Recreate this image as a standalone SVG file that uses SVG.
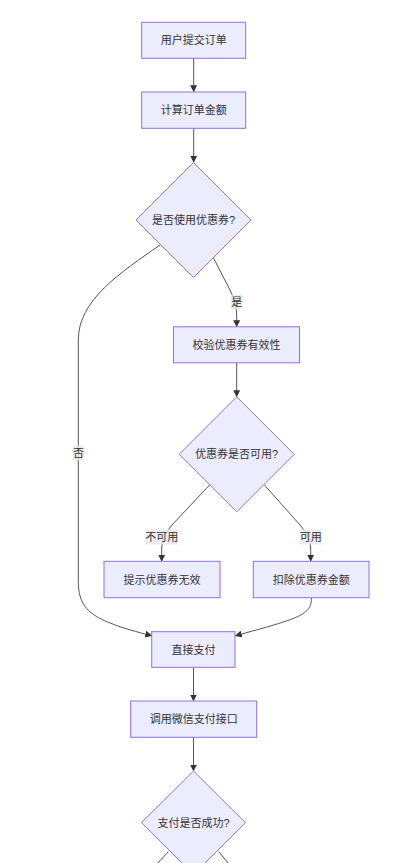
<svg xmlns="http://www.w3.org/2000/svg" width="406" height="863" viewBox="0 0 406 863">
<defs>
<style>
.n{fill:#ECECFF;stroke:#9370DB;stroke-width:1}
.t{font-family:"Liberation Sans","Noto Sans CJK SC",sans-serif;font-size:11px;fill:#333;text-anchor:middle;dominant-baseline:central}
.e{fill:none;stroke:#555;stroke-width:1}
.lb{fill:#e8e8e8;fill-opacity:0.8}
</style>
<marker id="arr" viewBox="0 0 10 10" refX="9" refY="5" markerWidth="7" markerHeight="7" markerUnits="userSpaceOnUse" orient="auto">
<path d="M0,0 L10,5 L0,10 z" fill="#333"/>
</marker>
</defs>
<rect width="406" height="863" fill="#fff"/>
<g id="edges">
<path class="e" d="M193.7,58.3 L193.7,91.5" marker-end="url(#arr)"/>
<path class="e" d="M193.7,128.3 L193.7,162" marker-end="url(#arr)"/>
<path class="e" d="M212.5,256 L230,290 Q236.7,303 236.7,315 L236.7,326.5" marker-end="url(#arr)"/>
<path class="e" d="M160,245 C120,273 78.3,300 78.3,340 L78.3,580 C78.3,610 90,620 151.5,635.7" marker-end="url(#arr)"/>
<path class="e" d="M236.7,362.7 L236.7,396.5" marker-end="url(#arr)"/>
<path class="e" d="M209.5,485 L172,525 Q161.7,537 161.7,548 L161.7,561" marker-end="url(#arr)"/>
<path class="e" d="M264.5,485 L300,525 Q310.7,537 310.7,548 L310.7,561" marker-end="url(#arr)"/>
<path class="e" d="M311.5,597.7 C311.5,615 300,618 235.5,635.7" marker-end="url(#arr)"/>
<path class="e" d="M193.5,667.3 L193.5,700.8" marker-end="url(#arr)"/>
<path class="e" d="M193.5,737.3 L193.5,770.8" marker-end="url(#arr)"/>
<path class="e" d="M168.3,851.7 L157,864"/>
<path class="e" d="M218.7,851.7 L229,864"/>
<rect class="lb" x="231" y="294.5" width="11.5" height="15"/>
<text class="t" x="236.7" y="302">是</text>
<rect class="lb" x="73" y="445.5" width="11" height="15"/>
<text class="t" x="78.5" y="453">否</text>
<rect class="lb" x="145.7" y="529.5" width="32" height="15"/>
<text class="t" x="161.7" y="537">不可用</text>
<rect class="lb" x="300" y="529.5" width="21.7" height="15"/>
<text class="t" x="310.8" y="537">可用</text>
</g>
<g id="n1"><rect class="n" x="141.7" y="22.3" width="104" height="36"/><text class="t" x="193.7" y="40.3">用户提交订单</text></g>
<g id="n2"><rect class="n" x="141.7" y="92" width="104" height="36.3"/><text class="t" x="193.7" y="110.2">计算订单金额</text></g>
<g id="n3"><polygon class="n" points="193.5,162.5 251,220 193.5,277.5 136,220"/><text class="t" x="193.5" y="220">是否使用优惠券?</text></g>
<g id="n4"><rect class="n" x="173.5" y="326.8" width="126" height="36"/><text class="t" x="236.5" y="344.8">校验优惠券有效性</text></g>
<g id="n5"><polygon class="n" points="236.7,396.8 294.2,454.3 236.7,511.8 179.2,454.3"/><text class="t" x="236.7" y="454.3">优惠券是否可用?</text></g>
<g id="n6"><rect class="n" x="104" y="561.3" width="116" height="36.4"/><text class="t" x="162" y="579.5">提示优惠券无效</text></g>
<g id="n7"><rect class="n" x="253.3" y="561.3" width="115.7" height="36.4"/><text class="t" x="311.2" y="579.5">扣除优惠券金额</text></g>
<g id="n8"><rect class="n" x="151.7" y="631.7" width="83.3" height="35.6"/><text class="t" x="193.4" y="649.5">直接支付</text></g>
<g id="n9"><rect class="n" x="130.7" y="701" width="126" height="36.3"/><text class="t" x="193.7" y="719.2">调用微信支付接口</text></g>
<g id="n10"><polygon class="n" points="193.5,771 245.5,822.7 193.5,874.4 141.5,822.7"/><text class="t" x="193.5" y="822.7">支付是否成功?</text></g>
</svg>
